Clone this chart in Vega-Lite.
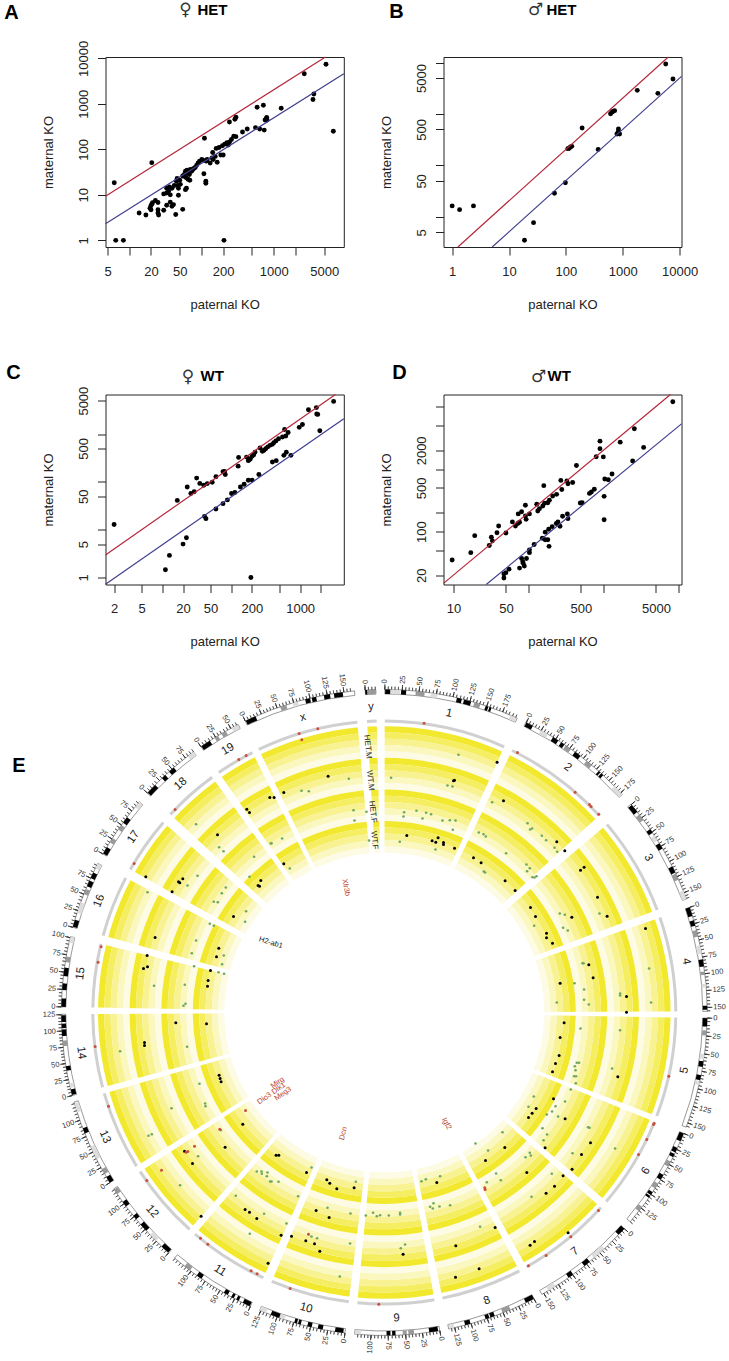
{"$schema":"https://vega.github.io/schema/vega-lite/v6.json","background":"white","padding":{"left":3.5,"top":0,"right":0,"bottom":0},"bounds":"flush","spacing":337.5,"config":{"font":"Liberation Sans","axis":{"grid":false,"domain":false,"tickSize":8,"tickColor":"#222","tickWidth":1,"labelColor":"#222","titleColor":"#222","labelFontSize":13,"titleFontSize":13,"titleFontWeight":"normal","labelOverlap":false,"labelFlush":false,"labelBound":false,"format":"d"}},"vconcat":[{"hconcat":[{"width":238.3,"height":190,"view":{"stroke":"#222","strokeWidth":1},"layer":[{"data":{"values":[{"x":6.2,"y":18.5},{"x":6.5,"y":1},{"x":8.3,"y":1},{"x":20.5,"y":51},{"x":13.7,"y":4},{"x":17,"y":3.6},{"x":19.4,"y":5.1},{"x":20,"y":4.7},{"x":20.5,"y":6.2},{"x":20,"y":5.8},{"x":21,"y":6.7},{"x":23,"y":7.5},{"x":25,"y":6.8},{"x":25,"y":4.7},{"x":25,"y":4},{"x":25.5,"y":3.6},{"x":30,"y":4.6},{"x":33,"y":5.9},{"x":37,"y":6.9},{"x":39,"y":5.6},{"x":41,"y":6.1},{"x":44,"y":3.7},{"x":55,"y":4.8},{"x":48,"y":9.8},{"x":37,"y":10},{"x":30,"y":10.5},{"x":33,"y":11},{"x":35,"y":12},{"x":37,"y":14},{"x":39,"y":14},{"x":42,"y":16},{"x":36,"y":15},{"x":33,"y":14},{"x":48,"y":14},{"x":47,"y":16},{"x":45,"y":20},{"x":46,"y":23},{"x":50,"y":21},{"x":51,"y":17},{"x":56,"y":26},{"x":60,"y":13},{"x":62,"y":14},{"x":61,"y":24},{"x":65,"y":22},{"x":69,"y":21},{"x":65,"y":30},{"x":70,"y":36},{"x":76,"y":36},{"x":82,"y":40},{"x":86,"y":45},{"x":94,"y":55},{"x":101,"y":60},{"x":108,"y":29},{"x":115,"y":20},{"x":115,"y":18},{"x":116,"y":55},{"x":132,"y":50},{"x":143,"y":85},{"x":140,"y":65},{"x":145,"y":60},{"x":155,"y":70},{"x":160,"y":105},{"x":165,"y":52},{"x":175,"y":110},{"x":185,"y":75},{"x":195,"y":120},{"x":200,"y":75},{"x":210,"y":130},{"x":225,"y":140},{"x":235,"y":125},{"x":245,"y":145},{"x":260,"y":165},{"x":280,"y":195},{"x":300,"y":190},{"x":370,"y":240},{"x":430,"y":280},{"x":560,"y":300},{"x":640,"y":280},{"x":740,"y":265},{"x":760,"y":440},{"x":790,"y":470},{"x":800,"y":500},{"x":810,"y":440},{"x":1270,"y":800},{"x":3500,"y":1250},{"x":3600,"y":1650},{"x":2650,"y":4600},{"x":5300,"y":7400},{"x":6700,"y":250},{"x":244,"y":398},{"x":290,"y":460},{"x":300,"y":510},{"x":110,"y":175},{"x":590,"y":840},{"x":720,"y":930},{"x":205,"y":1},{"x":55,"y":26},{"x":58,"y":28},{"x":60,"y":33},{"x":63,"y":35},{"x":68,"y":28},{"x":73,"y":33},{"x":78,"y":38},{"x":90,"y":50},{"x":105,"y":58},{"x":120,"y":60}]},"mark":{"type":"circle","color":"#000","opacity":1,"size":24},"encoding":{"x":{"field":"x","type":"quantitative","scale":{"type":"log","domain":[4.69,9350],"nice":false},"axis":{"values":[5,10,20,50,100,200,500,1000,2000,5000],"labelExpr":"indexof([5,20,50,200,1000,5000],datum.value)>=0?datum.value:''","title":"paternal KO","labelPadding":10,"titlePadding":20}},"y":{"field":"y","type":"quantitative","scale":{"type":"log","domain":[0.714,10700],"nice":false},"axis":{"values":[1,10,100,1000,10000],"labelAngle":-90,"title":"maternal KO","labelPadding":7,"titlePadding":22}}}},{"data":{"values":[{"x":4.69,"y":9.27},{"x":5210,"y":10700}]},"mark":{"type":"line","color":"#b5283a","strokeWidth":1.2},"encoding":{"x":{"field":"x","type":"quantitative"},"y":{"field":"y","type":"quantitative"}}},{"data":{"values":[{"x":4.69,"y":2.32},{"x":9350,"y":4600}]},"mark":{"type":"line","color":"#3f3f8f","strokeWidth":1.2},"encoding":{"x":{"field":"x","type":"quantitative"},"y":{"field":"y","type":"quantitative"}}},{"data":{"values":[{"t":"A"}]},"mark":{"type":"text","fontSize":20,"fontWeight":"bold","color":"#000"},"encoding":{"text":{"field":"t"},"x":{"value":-94},"y":{"value":-44.5}}},{"data":{"values":[{"t":"♀"}]},"mark":{"type":"text","font":"DejaVu Sans","fontSize":17,"color":"#333"},"encoding":{"text":{"field":"t"},"x":{"value":80},"y":{"value":-47}}},{"data":{"values":[{"t":"HET"}]},"mark":{"type":"text","fontSize":15,"fontWeight":"bold","align":"left","color":"#000"},"encoding":{"text":{"field":"t"},"x":{"value":92},"y":{"value":-47}}}]},{"width":238,"height":190,"view":{"stroke":"#222","strokeWidth":1},"layer":[{"data":{"values":[{"x":1,"y":16.3},{"x":1.35,"y":13.8},{"x":2.37,"y":16.3},{"x":18.7,"y":3.5},{"x":27,"y":7.7},{"x":63,"y":28.7},{"x":98,"y":46},{"x":370,"y":205},{"x":108,"y":212},{"x":115,"y":216},{"x":127,"y":235},{"x":120,"y":228},{"x":193,"y":535},{"x":610,"y":1014},{"x":645,"y":1077},{"x":720,"y":1160},{"x":670,"y":1120},{"x":840,"y":510},{"x":840,"y":460},{"x":790,"y":408},{"x":880,"y":408},{"x":1800,"y":2880},{"x":4150,"y":2520},{"x":5700,"y":9370},{"x":7650,"y":4790}]},"mark":{"type":"circle","color":"#000","opacity":1,"size":24},"encoding":{"x":{"field":"x","type":"quantitative","scale":{"type":"log","domain":[0.704,10800],"nice":false},"axis":{"values":[1,10,100,1000,10000],"title":"paternal KO","labelPadding":10,"titlePadding":20}},"y":{"field":"y","type":"quantitative","scale":{"type":"log","domain":[2.59,12830],"nice":false},"axis":{"values":[5,10,50,100,500,1000,5000,10000],"labelExpr":"indexof([5,50,500,5000],datum.value)>=0?datum.value:''","labelAngle":-90,"title":"maternal KO","labelPadding":7,"titlePadding":22}}}},{"data":{"values":[{"x":1.26,"y":2.59},{"x":6320,"y":12830}]},"mark":{"type":"line","color":"#b5283a","strokeWidth":1.2},"encoding":{"x":{"field":"x","type":"quantitative"},"y":{"field":"y","type":"quantitative"}}},{"data":{"values":[{"x":5.06,"y":2.59},{"x":10800,"y":5400}]},"mark":{"type":"line","color":"#3f3f8f","strokeWidth":1.2},"encoding":{"x":{"field":"x","type":"quantitative"},"y":{"field":"y","type":"quantitative"}}},{"data":{"values":[{"t":"B"}]},"mark":{"type":"text","fontSize":20,"fontWeight":"bold","color":"#000"},"encoding":{"text":{"field":"t"},"x":{"value":-47},"y":{"value":-45}}},{"data":{"values":[{"t":"♂"}]},"mark":{"type":"text","font":"DejaVu Sans","fontSize":17,"color":"#333"},"encoding":{"text":{"field":"t"},"x":{"value":92},"y":{"value":-47}}},{"data":{"values":[{"t":"HET"}]},"mark":{"type":"text","fontSize":15,"fontWeight":"bold","align":"left","color":"#000"},"encoding":{"text":{"field":"t"},"x":{"value":103},"y":{"value":-47}}}]}],"spacing":99,"bounds":"flush"},{"hconcat":[{"width":238.3,"height":190,"view":{"stroke":"#222","strokeWidth":1},"layer":[{"data":{"values":[{"x":2,"y":12.8},{"x":11.1,"y":1.45},{"x":12.7,"y":2.9},{"x":20,"y":5},{"x":22.4,"y":6.8},{"x":16.5,"y":41},{"x":23,"y":78},{"x":26,"y":57},{"x":29,"y":62},{"x":31.5,"y":120},{"x":35,"y":93},{"x":40,"y":85},{"x":45,"y":92},{"x":53,"y":98},{"x":60,"y":128},{"x":41,"y":19},{"x":43,"y":17},{"x":60,"y":27},{"x":76,"y":35},{"x":88,"y":42},{"x":101,"y":57},{"x":113,"y":60},{"x":136,"y":78},{"x":154,"y":89},{"x":177,"y":108},{"x":201,"y":109},{"x":252,"y":143},{"x":396,"y":260},{"x":450,"y":278},{"x":580,"y":359},{"x":630,"y":415},{"x":735,"y":359},{"x":76,"y":163},{"x":82,"y":143},{"x":80,"y":165},{"x":126,"y":213},{"x":128,"y":325},{"x":167,"y":330},{"x":177,"y":278},{"x":190,"y":305},{"x":201,"y":345},{"x":222,"y":420},{"x":262,"y":510},{"x":283,"y":435},{"x":317,"y":495},{"x":365,"y":580},{"x":396,"y":610},{"x":445,"y":720},{"x":487,"y":800},{"x":555,"y":870},{"x":595,"y":1250},{"x":620,"y":910},{"x":670,"y":1080},{"x":970,"y":1380},{"x":1080,"y":1590},{"x":1320,"y":3220},{"x":1720,"y":3580},{"x":1740,"y":2620},{"x":1800,"y":2580},{"x":1930,"y":1170},{"x":3060,"y":4820},{"x":193,"y":1},{"x":183,"y":290},{"x":212,"y":370},{"x":300,"y":460},{"x":340,"y":540},{"x":415,"y":660}]},"mark":{"type":"circle","color":"#000","opacity":1,"size":24},"encoding":{"x":{"field":"x","type":"quantitative","scale":{"type":"log","domain":[1.5,4300],"nice":false},"axis":{"values":[2,5,10,20,50,100,200,500,1000,2000],"labelExpr":"indexof([2,5,20,50,200,1000],datum.value)>=0?datum.value:''","title":"paternal KO","labelPadding":10,"titlePadding":20}},"y":{"field":"y","type":"quantitative","scale":{"type":"log","domain":[0.714,6720],"nice":false},"axis":{"values":[1,5,10,50,100,500,1000,5000],"labelExpr":"indexof([1,5,50,500,5000],datum.value)>=0?datum.value:''","labelAngle":-90,"title":"maternal KO","labelPadding":7,"titlePadding":22}}}},{"data":{"values":[{"x":1.5,"y":2.97},{"x":3250,"y":6720}]},"mark":{"type":"line","color":"#b5283a","strokeWidth":1.2},"encoding":{"x":{"field":"x","type":"quantitative"},"y":{"field":"y","type":"quantitative"}}},{"data":{"values":[{"x":1.5,"y":0.725},{"x":4300,"y":2090}]},"mark":{"type":"line","color":"#3f3f8f","strokeWidth":1.2},"encoding":{"x":{"field":"x","type":"quantitative"},"y":{"field":"y","type":"quantitative"}}},{"data":{"values":[{"t":"C"}]},"mark":{"type":"text","fontSize":20,"fontWeight":"bold","color":"#000"},"encoding":{"text":{"field":"t"},"x":{"value":-92},"y":{"value":-22}}},{"data":{"values":[{"t":"♀"}]},"mark":{"type":"text","font":"DejaVu Sans","fontSize":17,"color":"#333"},"encoding":{"text":{"field":"t"},"x":{"value":82.5},"y":{"value":-18}}},{"data":{"values":[{"t":"WT"}]},"mark":{"type":"text","fontSize":15,"fontWeight":"bold","align":"left","color":"#000"},"encoding":{"text":{"field":"t"},"x":{"value":95},"y":{"value":-19}}}]},{"width":238,"height":190,"view":{"stroke":"#222","strokeWidth":1},"layer":[{"data":{"values":[{"x":9.6,"y":35},{"x":17,"y":46},{"x":19.2,"y":86},{"x":30,"y":60},{"x":32,"y":81},{"x":33,"y":71},{"x":38,"y":96},{"x":40,"y":123},{"x":50,"y":95},{"x":61,"y":143},{"x":67,"y":123},{"x":72,"y":135},{"x":76,"y":141},{"x":73,"y":192},{"x":81,"y":208},{"x":91,"y":178},{"x":91,"y":264},{"x":93,"y":157},{"x":103,"y":192},{"x":129,"y":274},{"x":133,"y":214},{"x":140,"y":233},{"x":155,"y":257},{"x":164,"y":284},{"x":160,"y":544},{"x":181,"y":290},{"x":190,"y":317},{"x":210,"y":372},{"x":237,"y":395},{"x":278,"y":473},{"x":270,"y":660},{"x":325,"y":645},{"x":336,"y":585},{"x":388,"y":610},{"x":436,"y":1145},{"x":800,"y":1580},{"x":898,"y":2810},{"x":898,"y":2130},{"x":995,"y":1570},{"x":1670,"y":2710},{"x":2580,"y":4430},{"x":3430,"y":2230},{"x":8400,"y":12000},{"x":2450,"y":1350},{"x":1300,"y":835},{"x":1160,"y":677},{"x":1040,"y":695},{"x":1020,"y":367},{"x":1020,"y":155},{"x":755,"y":476},{"x":690,"y":430},{"x":650,"y":409},{"x":520,"y":290},{"x":490,"y":287},{"x":330,"y":192},{"x":285,"y":176},{"x":336,"y":161},{"x":263,"y":122},{"x":247,"y":143},{"x":235,"y":135},{"x":207,"y":120},{"x":186,"y":109},{"x":167,"y":98},{"x":153,"y":78},{"x":181,"y":74},{"x":167,"y":74},{"x":188,"y":58},{"x":119,"y":62},{"x":103,"y":51},{"x":103,"y":46},{"x":94,"y":37},{"x":81,"y":37},{"x":84,"y":33},{"x":88,"y":28},{"x":76,"y":26},{"x":85,"y":31},{"x":55,"y":25},{"x":50,"y":22},{"x":47,"y":21},{"x":47,"y":18}]},"mark":{"type":"circle","color":"#000","opacity":1,"size":24},"encoding":{"x":{"field":"x","type":"quantitative","scale":{"type":"log","domain":[7.36,10970],"nice":false},"axis":{"values":[10,50,100,500,1000,5000,10000],"labelExpr":"indexof([10,50,500,5000],datum.value)>=0?datum.value:''","title":"paternal KO","labelPadding":10,"titlePadding":20}},"y":{"field":"y","type":"quantitative","scale":{"type":"log","domain":[14.2,15700],"nice":false},"axis":{"values":[20,50,100,200,500,1000,2000,5000,10000],"labelExpr":"indexof([20,100,500,2000],datum.value)>=0?datum.value:''","labelAngle":-90,"title":"maternal KO","labelPadding":7,"titlePadding":22}}}},{"data":{"values":[{"x":7.36,"y":14.8},{"x":7810,"y":15700}]},"mark":{"type":"line","color":"#b5283a","strokeWidth":1.2},"encoding":{"x":{"field":"x","type":"quantitative"},"y":{"field":"y","type":"quantitative"}}},{"data":{"values":[{"x":27.3,"y":14.2},{"x":10970,"y":5320}]},"mark":{"type":"line","color":"#3f3f8f","strokeWidth":1.2},"encoding":{"x":{"field":"x","type":"quantitative"},"y":{"field":"y","type":"quantitative"}}},{"data":{"values":[{"t":"D"}]},"mark":{"type":"text","fontSize":20,"fontWeight":"bold","color":"#000"},"encoding":{"text":{"field":"t"},"x":{"value":-44},"y":{"value":-22}}},{"data":{"values":[{"t":"♂"}]},"mark":{"type":"text","font":"DejaVu Sans","fontSize":17,"color":"#333"},"encoding":{"text":{"field":"t"},"x":{"value":95},"y":{"value":-18}}},{"data":{"values":[{"t":"WT"}]},"mark":{"type":"text","fontSize":15,"fontWeight":"bold","align":"left","color":"#000"},"encoding":{"text":{"field":"t"},"x":{"value":104},"y":{"value":-19}}}]}],"spacing":99,"bounds":"flush"},{"width":557.6,"height":561,"view":{"stroke":null},"resolve":{"scale":{"color":"independent","angle":"independent"}},"layer":[{"data":{"values":[{"a0":0,"a1":360,"r0":286.3,"r1":280,"c":"s1"},{"a0":0,"a1":360,"r0":280,"r1":273.7,"c":"s2"},{"a0":0,"a1":360,"r0":273.7,"r1":267.4,"c":"s3"},{"a0":0,"a1":360,"r0":267.4,"r1":261,"c":"s4"},{"a0":0,"a1":360,"r0":261,"r1":254.7,"c":"s5"},{"a0":0,"a1":360,"r0":254.7,"r1":248.4,"c":"s1"},{"a0":0,"a1":360,"r0":248.4,"r1":242,"c":"s2"},{"a0":0,"a1":360,"r0":242,"r1":235.7,"c":"s3"},{"a0":0,"a1":360,"r0":235.7,"r1":229.4,"c":"s4"},{"a0":0,"a1":360,"r0":229.4,"r1":223,"c":"s5"},{"a0":0,"a1":360,"r0":223,"r1":216.7,"c":"s1"},{"a0":0,"a1":360,"r0":216.7,"r1":210.4,"c":"s2"},{"a0":0,"a1":360,"r0":210.4,"r1":204,"c":"s3"},{"a0":0,"a1":360,"r0":204,"r1":197.8,"c":"s4"},{"a0":0,"a1":360,"r0":197.8,"r1":191.5,"c":"s5"},{"a0":0,"a1":360,"r0":191.5,"r1":185.2,"c":"s1"},{"a0":0,"a1":360,"r0":185.2,"r1":178.9,"c":"s2"},{"a0":0,"a1":360,"r0":178.9,"r1":172.5,"c":"s3"},{"a0":0,"a1":360,"r0":172.5,"r1":166.2,"c":"s4"},{"a0":0,"a1":360,"r0":166.2,"r1":160,"c":"s5"}]},"mark":{"type":"arc"},"encoding":{"theta":{"field":"a0","type":"quantitative","scale":{"domain":[0,360],"range":[0,6.283185]}},"theta2":{"field":"a1"},"radius":{"field":"r0","type":"quantitative","scale":{"type":"linear","domain":[0,345],"range":[0,345]}},"radius2":{"field":"r1"},"color":{"field":"c","type":"nominal","legend":null,"scale":{"domain":["s1","s2","s3","s4","s5"],"range":["#f2e92e","#f5ee62","#f8f293","#faf7bf","#fdfbe4"]}}}},{"data":{"values":[{"a0":24.3,"a1":26},{"a0":47.5,"a1":49.8},{"a0":69.4,"a1":71},{"a0":89.8,"a1":91},{"a0":110.8,"a1":112},{"a0":130.4,"a1":132},{"a0":150.8,"a1":152.4},{"a0":168.5,"a1":170.1},{"a0":185.3,"a1":187},{"a0":202.7,"a1":204.5},{"a0":220.5,"a1":221.9},{"a0":236.9,"a1":238.2},{"a0":253.9,"a1":255.1},{"a0":269.7,"a1":271},{"a0":283.6,"a1":285.3},{"a0":297.5,"a1":299.4},{"a0":310.7,"a1":312.8},{"a0":323.8,"a1":325.4},{"a0":333.1,"a1":334.5},{"a0":354.7,"a1":356.6},{"a0":358.5,"a1":360},{"a0":0,"a1":0.1}]},"mark":{"type":"arc","color":"white"},"encoding":{"theta":{"field":"a0","type":"quantitative","scale":{"domain":[0,360],"range":[0,6.283185]}},"theta2":{"field":"a1"},"radius":{"value":289},"radius2":{"value":150}}},{"data":{"name":"chrom","values":[{"a0":0.1,"a1":24.3,"m":12.2,"n":"1"},{"a0":26,"a1":47.5,"m":36.8,"n":"2"},{"a0":49.8,"a1":69.4,"m":59.6,"n":"3"},{"a0":71,"a1":89.8,"m":80.4,"n":"4"},{"a0":91,"a1":110.8,"m":100.9,"n":"5"},{"a0":112,"a1":130.4,"m":121.2,"n":"6"},{"a0":132,"a1":150.8,"m":141.4,"n":"7"},{"a0":152.4,"a1":168.5,"m":160.4,"n":"8"},{"a0":170.1,"a1":185.3,"m":177.7,"n":"9"},{"a0":187,"a1":202.7,"m":194.8,"n":"10"},{"a0":204.5,"a1":220.5,"m":212.5,"n":"11"},{"a0":221.9,"a1":236.9,"m":229.4,"n":"12"},{"a0":238.2,"a1":253.9,"m":246,"n":"13"},{"a0":255.1,"a1":269.7,"m":262.4,"n":"14"},{"a0":271,"a1":283.6,"m":277.3,"n":"15"},{"a0":285.3,"a1":297.5,"m":291.4,"n":"16"},{"a0":299.4,"a1":310.7,"m":305,"n":"17"},{"a0":312.8,"a1":323.8,"m":318.3,"n":"18"},{"a0":325.4,"a1":333.1,"m":329.3,"n":"19"},{"a0":334.5,"a1":354.7,"m":344.6,"n":"x"},{"a0":356.6,"a1":358.5,"m":357.5,"n":"y"}]},"mark":{"type":"arc","color":"#d0d0d0"},"encoding":{"theta":{"field":"a0","type":"quantitative","scale":{"domain":[0,360],"range":[0,6.283185]}},"theta2":{"field":"a1"},"radius":{"value":293},"radius2":{"value":290}}},{"data":{"name":"chrom"},"mark":{"type":"arc","fill":"white","stroke":"#333","strokeWidth":0.5},"encoding":{"theta":{"field":"a0","type":"quantitative","scale":{"domain":[0,360],"range":[0,6.283185]}},"theta2":{"field":"a1"},"radius":{"value":323},"radius2":{"value":318.5}}},{"data":{"values":[{"a0":0.15,"a1":1.1,"c":"k"},{"a0":1.1,"a1":2.8,"c":"l"},{"a0":3,"a1":3.9,"c":"k"},{"a0":5.6,"a1":7.2,"c":"g"},{"a0":8.3,"a1":9.5,"c":"l"},{"a0":13,"a1":13.9,"c":"k"},{"a0":14.3,"a1":15.6,"c":"k"},{"a0":16.2,"a1":17.3,"c":"g"},{"a0":18.3,"a1":18.8,"c":"k"},{"a0":19,"a1":19.4,"c":"k"},{"a0":23,"a1":24.2,"c":"l"},{"a0":26.1,"a1":27.4,"c":"k"},{"a0":29,"a1":30.5,"c":"l"},{"a0":31.5,"a1":32.6,"c":"k"},{"a0":33.2,"a1":33.9,"c":"k"},{"a0":34.2,"a1":35.3,"c":"g"},{"a0":36.2,"a1":37.4,"c":"k"},{"a0":38.8,"a1":40,"c":"g"},{"a0":41.6,"a1":42,"c":"k"},{"a0":42.2,"a1":42.7,"c":"k"},{"a0":45.5,"a1":47.5,"c":"l"},{"a0":50,"a1":51.6,"c":"k"},{"a0":52.2,"a1":53.4,"c":"g"},{"a0":55.4,"a1":56.2,"c":"k"},{"a0":56.8,"a1":57.8,"c":"l"},{"a0":58.4,"a1":59.5,"c":"k"},{"a0":63.1,"a1":64.3,"c":"k"},{"a0":64.5,"a1":65.7,"c":"g"},{"a0":67.8,"a1":69.4,"c":"l"},{"a0":71,"a1":72.6,"c":"k"},{"a0":73.4,"a1":74.4,"c":"k"},{"a0":75.2,"a1":76.4,"c":"g"},{"a0":78,"a1":79.5,"c":"l"},{"a0":80.5,"a1":81.8,"c":"k"},{"a0":82.7,"a1":83.3,"c":"g"},{"a0":84.9,"a1":85.5,"c":"l"},{"a0":88.8,"a1":89.5,"c":"k"},{"a0":91,"a1":92.5,"c":"k"},{"a0":93.2,"a1":94.1,"c":"g"},{"a0":97.4,"a1":98.3,"c":"l"},{"a0":98.7,"a1":99.7,"c":"k"},{"a0":101.2,"a1":102.1,"c":"k"},{"a0":102.3,"a1":103,"c":"l"},{"a0":112,"a1":113.5,"c":"k"},{"a0":114.8,"a1":115.7,"c":"k"},{"a0":116,"a1":116.6,"c":"k"},{"a0":117.5,"a1":118.5,"c":"g"},{"a0":120.2,"a1":121.2,"c":"k"},{"a0":122,"a1":123,"c":"g"},{"a0":123.8,"a1":124.4,"c":"k"},{"a0":124.6,"a1":125,"c":"k"},{"a0":127,"a1":128,"c":"g"},{"a0":132,"a1":133.5,"c":"k"},{"a0":137,"a1":139.5,"c":"l"},{"a0":140.5,"a1":141.7,"c":"k"},{"a0":144.2,"a1":145.2,"c":"k"},{"a0":148,"a1":149.5,"c":"l"},{"a0":152.4,"a1":154,"c":"k"},{"a0":157,"a1":158.5,"c":"g"},{"a0":160,"a1":160.8,"c":"k"},{"a0":161,"a1":161.7,"c":"k"},{"a0":164.5,"a1":165.5,"c":"k"},{"a0":167.5,"a1":168.3,"c":"l"},{"a0":170.4,"a1":172,"c":"k"},{"a0":174.7,"a1":175.7,"c":"g"},{"a0":176,"a1":176.7,"c":"g"},{"a0":178,"a1":178.6,"c":"k"},{"a0":178.9,"a1":179.6,"c":"k"},{"a0":184.2,"a1":185.3,"c":"l"},{"a0":187.3,"a1":188.8,"c":"k"},{"a0":191,"a1":191.9,"c":"k"},{"a0":193,"a1":193.8,"c":"k"},{"a0":195,"a1":195.5,"c":"k"},{"a0":195.7,"a1":196.2,"c":"k"},{"a0":198,"a1":199,"c":"l"},{"a0":199,"a1":200.6,"c":"k"},{"a0":201.5,"a1":202.7,"c":"l"},{"a0":204.6,"a1":206,"c":"k"},{"a0":206.8,"a1":207.3,"c":"k"},{"a0":207.8,"a1":208.3,"c":"k"},{"a0":209,"a1":209.8,"c":"k"},{"a0":214.5,"a1":215.5,"c":"k"},{"a0":217,"a1":218.2,"c":"g"},{"a0":222,"a1":223.6,"c":"k"},{"a0":225,"a1":226.5,"c":"l"},{"a0":227.5,"a1":229,"c":"k"},{"a0":230.2,"a1":231,"c":"k"},{"a0":233.1,"a1":234.1,"c":"k"},{"a0":235.8,"a1":236.8,"c":"g"},{"a0":238.2,"a1":239.4,"c":"k"},{"a0":240,"a1":241,"c":"g"},{"a0":243,"a1":245.5,"c":"l"},{"a0":248,"a1":249,"c":"k"},{"a0":252,"a1":253.7,"c":"l"},{"a0":255.2,"a1":256.2,"c":"k"},{"a0":256.5,"a1":257.3,"c":"l"},{"a0":259.6,"a1":260.4,"c":"k"},{"a0":264,"a1":265,"c":"g"},{"a0":265.8,"a1":267,"c":"k"},{"a0":267.2,"a1":268,"c":"k"},{"a0":268.3,"a1":269.5,"c":"k"},{"a0":271,"a1":272.5,"c":"k"},{"a0":274,"a1":275.2,"c":"k"},{"a0":276.5,"a1":278,"c":"k"},{"a0":279,"a1":280,"c":"g"},{"a0":282.5,"a1":283.6,"c":"l"},{"a0":285.4,"a1":286.7,"c":"k"},{"a0":288,"a1":290,"c":"l"},{"a0":291.5,"a1":292.5,"c":"g"},{"a0":293,"a1":294.1,"c":"k"},{"a0":294.6,"a1":295.7,"c":"k"},{"a0":296.5,"a1":297.5,"c":"l"},{"a0":299.5,"a1":300.8,"c":"k"},{"a0":301.8,"a1":302.7,"c":"g"},{"a0":304.5,"a1":305.5,"c":"g"},{"a0":306,"a1":307.2,"c":"k"},{"a0":309.5,"a1":310.7,"c":"l"},{"a0":312.9,"a1":314.8,"c":"k"},{"a0":316.5,"a1":317.3,"c":"k"},{"a0":318.2,"a1":319.3,"c":"k"},{"a0":322.5,"a1":323.8,"c":"l"},{"a0":325.5,"a1":327.3,"c":"k"},{"a0":328.3,"a1":329,"c":"g"},{"a0":329.7,"a1":330.6,"c":"g"},{"a0":331.8,"a1":333,"c":"l"},{"a0":334.6,"a1":336.5,"c":"k"},{"a0":341.2,"a1":342.3,"c":"g"},{"a0":343.5,"a1":344.5,"c":"l"},{"a0":345.8,"a1":346.7,"c":"k"},{"a0":347,"a1":347.8,"c":"k"},{"a0":349.2,"a1":350.3,"c":"k"},{"a0":351,"a1":352.6,"c":"k"},{"a0":356.6,"a1":357,"c":"k"},{"a0":357,"a1":358.5,"c":"g"}]},"mark":{"type":"arc"},"encoding":{"theta":{"field":"a0","type":"quantitative","scale":{"domain":[0,360],"range":[0,6.283185]}},"theta2":{"field":"a1"},"radius":{"value":323},"radius2":{"value":318.5},"color":{"field":"c","type":"nominal","legend":null,"scale":{"domain":["k","g","l"],"range":["#000000","#999999","#dddddd"]}}}},{"data":{"values":[0.1,0.7,1.3,1.9,2.5,3.2,3.8,4.4,5,5.6,6.2,6.8,7.4,8,8.7,9.3,9.9,10.5,11.1,11.7,12.3,12.9,13.6,14.2,14.8,15.4,16,16.6,17.2,17.8,18.5,19.1,19.7,20.3,20.9,21.5,22.1,22.7,23.4,24,26.1,26.7,27.3,27.9,28.5,29.1,29.7,30.3,30.9,31.5,32.1,32.7,33.3,33.9,34.5,35.1,35.7,36.3,36.9,37.5,38.1,38.7,39.3,39.9,40.5,41.1,41.7,42.3,42.9,43.5,44.1,44.7,45.3,45.9,46.5,47.1,49.9,50.5,51.1,51.7,52.3,52.9,53.6,54.2,54.8,55.4,56,56.6,57.2,57.8,58.4,59,59.7,60.3,60.9,61.5,62.1,62.7,63.3,63.9,64.5,65.1,65.8,66.4,67,67.6,68.2,68.8,69.3,71,71.6,72.2,72.8,73.4,74,74.6,75.2,75.8,76.4,77,77.6,78.2,78.8,79.5,80.1,80.7,81.3,81.9,82.5,83.1,83.7,84.3,84.9,85.5,86.1,86.7,87.3,87.9,88.5,89.1,89.7,91,91.6,92.3,92.9,93.5,94.2,94.8,95.4,96.1,96.7,97.4,98,98.6,99.3,99.9,100.5,101.2,101.8,102.4,103.1,103.7,104.3,105,105.6,106.2,106.9,107.5,108.1,108.8,109.4,110,110.6,112,112.6,113.2,113.8,114.5,115.1,115.7,116.3,116.9,117.5,118.1,118.7,119.4,120,120.6,121.2,121.8,122.4,123,123.6,124.3,124.9,125.5,126.1,126.7,127.3,127.9,128.5,129.2,129.8,130.4,132,132.6,133.2,133.8,134.5,135.1,135.7,136.3,136.9,137.5,138.1,138.7,139.4,140,140.6,141.2,141.8,142.4,143,143.6,144.3,144.9,145.5,146.1,146.7,147.3,147.9,148.5,149.2,149.8,150.4,152.4,153,153.6,154.2,154.8,155.4,156,156.6,157.2,157.8,158.4,159,159.6,160.2,160.8,161.4,162,162.6,163.2,163.8,164.4,165,165.6,166.2,166.8,167.4,168,170.1,170.7,171.3,171.9,172.5,173.2,173.8,174.4,175,175.6,176.2,176.8,177.4,178,178.6,179.3,179.9,180.5,181.1,181.7,182.3,182.9,183.5,184.1,184.7,187,187.6,188.2,188.9,189.5,190.1,190.7,191.3,192,192.6,193.2,193.8,194.4,195.1,195.7,196.3,196.9,197.5,198.2,198.8,199.4,200,200.6,201.3,201.9,202.5,204.5,205.1,205.7,206.3,206.9,207.6,208.2,208.8,209.4,210,210.6,211.2,211.8,212.4,213,213.7,214.3,214.9,215.5,216.1,216.7,217.3,217.9,218.5,219.1,219.8,220.4,221.9,222.5,223.1,223.7,224.3,224.9,225.4,226,226.6,227.2,227.8,228.4,229,229.6,230.2,230.8,231.3,231.9,232.5,233.1,233.7,234.3,234.9,235.5,236.1,236.7,238.2,238.8,239.4,240.1,240.7,241.3,241.9,242.5,243.1,243.7,244.4,245,245.6,246.2,246.8,247.4,248,248.6,249.3,249.9,250.5,251.1,251.7,252.3,252.9,253.6,255.1,255.7,256.3,256.8,257.4,258,258.6,259.2,259.7,260.3,260.9,261.5,262.1,262.6,263.2,263.8,264.4,265,265.5,266.1,266.7,267.3,267.9,268.4,269,269.6,271,271.6,272.2,272.9,273.5,274.1,274.7,275.3,276,276.6,277.2,277.8,278.4,279.1,279.7,280.3,280.9,281.5,282.2,282.8,283.4,285.3,285.9,286.5,287.2,287.8,288.4,289,289.6,290.3,290.9,291.5,292.1,292.7,293.4,294,294.6,295.2,295.8,296.5,297.1,299.4,300,300.6,301.2,301.8,302.5,303.1,303.7,304.3,304.9,305.5,306.1,306.7,307.3,307.9,308.6,309.2,309.8,310.4,312.8,313.4,314,314.6,315.2,315.9,316.5,317.1,317.7,318.3,318.9,319.5,320.1,320.7,321.3,322,322.6,323.2,323.8,325.4,326,326.6,327.3,327.9,328.5,329.1,329.7,330.4,331,331.6,332.2,332.8,334.5,335.1,335.7,336.3,336.9,337.6,338.2,338.8,339.4,340,340.6,341.2,341.8,342.4,343,343.7,344.3,344.9,345.5,346.1,346.7,347.3,347.9,348.5,349.1,349.8,350.4,351,351.6,352.2,352.8,353.4,354,356.6,357.2,357.8,358.4]},"mark":{"type":"arc","stroke":"#333","strokeWidth":0.6,"fill":null},"encoding":{"theta":{"field":"data","type":"quantitative","scale":{"domain":[0,360],"range":[0,6.283185]}},"theta2":{"field":"data"},"radius":{"value":326},"radius2":{"value":323}}},{"data":{"name":"labR","values":[{"a":0.1,"l":"0"},{"a":3.2,"l":"25"},{"a":6.2,"l":"50"},{"a":9.3,"l":"75"},{"a":12.3,"l":"100"},{"a":15.4,"l":"125"},{"a":18.5,"l":"150"},{"a":21.5,"l":"175"},{"a":26.1,"l":"0"},{"a":29.1,"l":"25"},{"a":32.1,"l":"50"},{"a":35.1,"l":"75"},{"a":38.1,"l":"100"},{"a":41.1,"l":"125"},{"a":44.1,"l":"150"},{"a":47.1,"l":"175"},{"a":49.9,"l":"0"},{"a":52.9,"l":"25"},{"a":56,"l":"50"},{"a":59,"l":"75"},{"a":62.1,"l":"100"},{"a":65.1,"l":"125"},{"a":68.2,"l":"150"},{"a":71,"l":"0"},{"a":74,"l":"25"},{"a":77,"l":"50"},{"a":80.1,"l":"75"},{"a":83.1,"l":"100"},{"a":86.1,"l":"125"},{"a":89.1,"l":"150"},{"a":91,"l":"0"},{"a":94.2,"l":"25"},{"a":97.4,"l":"50"},{"a":100.5,"l":"75"},{"a":103.7,"l":"100"},{"a":106.9,"l":"125"},{"a":110,"l":"150"},{"a":112,"l":"0"},{"a":115.1,"l":"25"},{"a":118.1,"l":"50"},{"a":121.2,"l":"75"},{"a":124.3,"l":"100"},{"a":127.3,"l":"125"},{"a":132,"l":"0"},{"a":135.1,"l":"25"},{"a":138.1,"l":"50"},{"a":141.2,"l":"75"},{"a":144.3,"l":"100"},{"a":147.4,"l":"125"},{"a":150.4,"l":"150"},{"a":152.4,"l":"0"},{"a":155.4,"l":"25"},{"a":158.4,"l":"50"},{"a":161.4,"l":"75"},{"a":164.4,"l":"100"},{"a":167.4,"l":"125"},{"a":170.1,"l":"0"},{"a":173.2,"l":"25"},{"a":176.2,"l":"50"},{"a":179.3,"l":"75"}]},"mark":{"type":"text","fontSize":7.5,"align":"left","baseline":"middle","color":"#333"},"encoding":{"text":{"field":"l"},"theta":{"field":"a","type":"quantitative","scale":{"domain":[0,360],"range":[0,6.283185]}},"radius":{"value":329},"angle":{"field":"a","type":"quantitative","scale":{"domain":[0,180],"range":[-90,90]}}}},{"data":{"name":"labL","values":[{"a":182.4,"l":"100"},{"a":187,"l":"0"},{"a":190.1,"l":"25"},{"a":193.2,"l":"50"},{"a":196.3,"l":"75"},{"a":199.4,"l":"100"},{"a":202.5,"l":"125"},{"a":204.5,"l":"0"},{"a":207.6,"l":"25"},{"a":210.6,"l":"50"},{"a":213.7,"l":"75"},{"a":216.8,"l":"100"},{"a":221.9,"l":"0"},{"a":224.9,"l":"25"},{"a":227.8,"l":"50"},{"a":230.8,"l":"75"},{"a":233.7,"l":"100"},{"a":238.2,"l":"0"},{"a":241.3,"l":"25"},{"a":244.4,"l":"50"},{"a":247.4,"l":"75"},{"a":250.5,"l":"100"},{"a":255.1,"l":"0"},{"a":258,"l":"25"},{"a":260.9,"l":"50"},{"a":263.8,"l":"75"},{"a":266.7,"l":"100"},{"a":269.6,"l":"125"},{"a":271,"l":"0"},{"a":274.1,"l":"25"},{"a":277.2,"l":"50"},{"a":280.3,"l":"75"},{"a":283.4,"l":"100"},{"a":285.3,"l":"0"},{"a":288.4,"l":"25"},{"a":291.5,"l":"50"},{"a":294.6,"l":"75"},{"a":299.4,"l":"0"},{"a":302.5,"l":"25"},{"a":305.5,"l":"50"},{"a":308.6,"l":"75"},{"a":312.8,"l":"0"},{"a":315.9,"l":"25"},{"a":318.9,"l":"50"},{"a":322,"l":"75"},{"a":325.4,"l":"0"},{"a":328.5,"l":"25"},{"a":331.6,"l":"50"},{"a":334.5,"l":"0"},{"a":337.6,"l":"25"},{"a":340.6,"l":"50"},{"a":343.7,"l":"75"},{"a":346.7,"l":"100"},{"a":349.8,"l":"125"},{"a":352.8,"l":"150"},{"a":356.6,"l":"0"}]},"mark":{"type":"text","fontSize":7.5,"align":"right","baseline":"middle","color":"#333"},"encoding":{"text":{"field":"l"},"theta":{"field":"a","type":"quantitative","scale":{"domain":[0,360],"range":[0,6.283185]}},"radius":{"value":329},"angle":{"field":"a","type":"quantitative","scale":{"domain":[180,360],"range":[270,450]}}}},{"data":{"name":"labR"},"mark":{"type":"arc","stroke":"#333","strokeWidth":0.7,"fill":null},"encoding":{"theta":{"field":"a","type":"quantitative","scale":{"domain":[0,360],"range":[0,6.283185]}},"theta2":{"field":"a"},"radius":{"value":328},"radius2":{"value":323}}},{"data":{"name":"labL"},"mark":{"type":"arc","stroke":"#333","strokeWidth":0.7,"fill":null},"encoding":{"theta":{"field":"a","type":"quantitative","scale":{"domain":[0,360],"range":[0,6.283185]}},"theta2":{"field":"a"},"radius":{"value":328},"radius2":{"value":323}}},{"data":{"name":"chrom"},"mark":{"type":"text","fontSize":11.5,"color":"#222"},"encoding":{"text":{"field":"n"},"theta":{"field":"m","type":"quantitative","scale":{"domain":[0,360],"range":[0,6.283185]}},"radius":{"value":306},"angle":{"field":"m","type":"quantitative","scale":{"domain":[0,90,90.01,270,270.01,360],"range":[0,90,-90,90,-90,0]}}}},{"data":{"values":[{"x":74.2,"y":257.7},{"x":6.8,"y":234.7},{"x":63.2,"y":227},{"x":68.2,"y":226},{"x":19.8,"y":200.3},{"x":19.2,"y":196},{"x":32.2,"y":201.7},{"x":41.8,"y":199.7},{"x":46.8,"y":198.3},{"x":38.2,"y":194},{"x":58.2,"y":192},{"x":65.5,"y":192.3},{"x":71.2,"y":192},{"x":68.5,"y":182.7},{"x":15.5,"y":170.7},{"x":51.2,"y":163},{"x":107.8,"y":210.3},{"x":143.2,"y":189.3},{"x":145.8,"y":183},{"x":147.8,"y":184},{"x":94.5,"y":180},{"x":99.2,"y":178.3},{"x":101.5,"y":176},{"x":157.5,"y":176.7},{"x":161.8,"y":172.3},{"x":170.2,"y":164.7},{"x":172.8,"y":160.7},{"x":121.8,"y":159.3},{"x":142.2,"y":148},{"x":145.5,"y":144.3},{"x":142.8,"y":141.3},{"x":99.5,"y":141},{"x":100.8,"y":140},{"x":148.2,"y":135.3},{"x":150.2,"y":135},{"x":152.2,"y":136.3},{"x":175.5,"y":99},{"x":180.5,"y":97.7},{"x":149.8,"y":86.7},{"x":178.8,"y":84.7},{"x":183.5,"y":82},{"x":215.2,"y":99},{"x":264.8,"y":44},{"x":198.2,"y":49.3},{"x":199.2,"y":49.3},{"x":190.2,"y":29.3},{"x":199.8,"y":23},{"x":235.8,"y":19},{"x":235.8,"y":17},{"x":172.5,"y":10},{"x":199.8,"y":12.7},{"x":204.5,"y":8},{"x":266.8,"y":10},{"x":-17.8,"y":200.7},{"x":-15.2,"y":172},{"x":-35.5,"y":233.7},{"x":-82.8,"y":221.7},{"x":-75.5,"y":221.3},{"x":-30.8,"y":202.3},{"x":-29.8,"y":192},{"x":-102.2,"y":174},{"x":-112.8,"y":169.3},{"x":-113.5,"y":169},{"x":-130.2,"y":155.7},{"x":-94.5,"y":144},{"x":-134.8,"y":135.7},{"x":-188.2,"y":188.3},{"x":-165.2,"y":165.3},{"x":-160.8,"y":161.3},{"x":-186.8,"y":136.7},{"x":-196.8,"y":127},{"x":-158.5,"y":125},{"x":-162.5,"y":119.3},{"x":-170.5,"y":110.7},{"x":-166.5,"y":110.3},{"x":-138.2,"y":101.3},{"x":-139.2,"y":90.7},{"x":-174.5,"y":88.7},{"x":-170.5,"y":86.7},{"x":-236.8,"y":120.3},{"x":-188.2,"y":72},{"x":-192.5,"y":59.3},{"x":-160.5,"y":57},{"x":-162.2,"y":48.3},{"x":-190.2,"y":46.3},{"x":-165.8,"y":40.3},{"x":-160.2,"y":38.7},{"x":-230.2,"y":26.7},{"x":-199.5,"y":27.7},{"x":-198.8,"y":8.7},{"x":-200.8,"y":6.7},{"x":196.2,"y":-16},{"x":235.8,"y":-17.7},{"x":227.8,"y":-56},{"x":192.5,"y":-50.3},{"x":194.8,"y":-50.3},{"x":190.5,"y":-53.7},{"x":191.2,"y":-57.7},{"x":189.8,"y":-63.7},{"x":191.8,"y":-63.7},{"x":191.5,"y":-70.7},{"x":186.5,"y":-77},{"x":180.8,"y":-89},{"x":171.2,"y":-93.7},{"x":167.8,"y":-99},{"x":173.8,"y":-104},{"x":162.5,"y":-102},{"x":149.5,"y":-84},{"x":144.2,"y":-94.3},{"x":203.8,"y":-114.7},{"x":205.2,"y":-115.3},{"x":230.8,"y":-136},{"x":188.2,"y":-140.7},{"x":158.2,"y":-115.7},{"x":162.8,"y":-122},{"x":159.2,"y":-127.7},{"x":118.2,"y":-119.7},{"x":91.2,"y":-131},{"x":103.8,"y":-138},{"x":145.5,"y":-140.3},{"x":146.5,"y":-143},{"x":141.2,"y":-144.7},{"x":167.5,"y":-161.3},{"x":111.8,"y":-161},{"x":116.5,"y":-167.7},{"x":102.5,"y":-169.7},{"x":147.2,"y":-184.3},{"x":55.8,"y":-163.7},{"x":41.5,"y":-166.7},{"x":37.2,"y":-168.7},{"x":49.2,"y":-190.7},{"x":45.8,"y":-194.3},{"x":48.5,"y":-196},{"x":55.2,"y":-194},{"x":65.8,"y":-192.7},{"x":95.8,"y":-214.3},{"x":20.8,"y":-232},{"x":16.5,"y":-235.7},{"x":-18.5,"y":-203},{"x":-11.2,"y":-200.3},{"x":-7.5,"y":-203.7},{"x":-4.2,"y":-202.7},{"x":4.5,"y":-203},{"x":15.8,"y":-200.3},{"x":15.8,"y":-202},{"x":-264.2,"y":-38.7},{"x":-197.2,"y":-34.3},{"x":-184.8,"y":-71.3},{"x":-212.8,"y":-95.7},{"x":-179.2,"y":-91},{"x":-178.8,"y":-93.7},{"x":-235.8,"y":-123.3},{"x":-232.5,"y":-121.7},{"x":-186.2,"y":-143.7},{"x":-163.5,"y":-117.7},{"x":-204.2,"y":-172.7},{"x":-148.5,"y":-183.3},{"x":-127.5,"y":-159},{"x":-122.8,"y":-159},{"x":-122.5,"y":-161.3},{"x":-116.8,"y":-160},{"x":-117.5,"y":-163.7},{"x":-114.2,"y":-169},{"x":-112.8,"y":-169},{"x":-105.8,"y":-169.3},{"x":-72.8,"y":-155},{"x":-28.5,"y":-169.3},{"x":-86.2,"y":-183.7},{"x":-56.8,"y":-195.3},{"x":-33.8,"y":-201},{"x":-120.2,"y":-201.3},{"x":-97.8,"y":-211},{"x":-134.5,"y":-221.3},{"x":-72.8,"y":-224},{"x":-67.2,"y":-225.7},{"x":-34.2,"y":-231},{"x":-44.5,"y":-264}]},"mark":{"type":"circle","color":"#6fa860","opacity":1,"size":7},"encoding":{"x":{"field":"x","type":"quantitative","scale":{"domain":[-278.8,278.8],"nice":false,"zero":false},"axis":null},"y":{"field":"y","type":"quantitative","scale":{"domain":[-280.5,280.5],"nice":false,"zero":false},"axis":null}}},{"data":{"values":[{"x":112.8,"y":250.3},{"x":70.2,"y":232.3},{"x":69.2,"y":231.7},{"x":119.2,"y":211.7},{"x":22.5,"y":177},{"x":53.8,"y":174.7},{"x":47.8,"y":171.7},{"x":51.5,"y":170.3},{"x":59.2,"y":170},{"x":59.2,"y":168},{"x":70.2,"y":164.3},{"x":89.2,"y":154.7},{"x":96.8,"y":149.7},{"x":120.8,"y":131.7},{"x":130.8,"y":122},{"x":172.5,"y":170.7},{"x":180.5,"y":161.7},{"x":196.2,"y":142.3},{"x":199.8,"y":145.3},{"x":213.2,"y":115.3},{"x":222.8,"y":96.3},{"x":187.5,"y":95.3},{"x":146.2,"y":105},{"x":151.2,"y":96},{"x":162.2,"y":79.3},{"x":162.2,"y":74.7},{"x":168.2,"y":69.3},{"x":261.2,"y":84},{"x":204.5,"y":47.7},{"x":208.8,"y":34.7},{"x":175.8,"y":29.3},{"x":242.2,"y":16},{"x":-56.2,"y":236.3},{"x":-100.5,"y":220},{"x":-114.5,"y":215},{"x":-110.2,"y":215},{"x":-137.5,"y":203.3},{"x":-134.8,"y":200},{"x":-166.8,"y":177.7},{"x":-100.5,"y":148.7},{"x":-123.5,"y":132},{"x":-126.2,"y":127},{"x":-124.8,"y":126.3},{"x":-238.5,"y":135.7},{"x":-201.5,"y":133.7},{"x":-205.8,"y":130.7},{"x":-204.5,"y":129.7},{"x":-212.2,"y":120.7},{"x":-150.8,"y":96},{"x":-229.2,"y":75},{"x":-165.5,"y":64.3},{"x":-237.2,"y":57},{"x":-167.8,"y":55.7},{"x":-236.8,"y":45.7},{"x":-240.8,"y":44},{"x":-173.8,"y":42},{"x":-176.2,"y":32},{"x":-176.8,"y":26.3},{"x":179.8,"y":-10.3},{"x":175.8,"y":-25},{"x":174.8,"y":-43},{"x":171.2,"y":-51},{"x":168.2,"y":-59.3},{"x":169.2,"y":-86.3},{"x":151.8,"y":-96},{"x":147.8,"y":-100.7},{"x":144.2,"y":-105},{"x":180.8,"y":-106.3},{"x":233.5,"y":-64.3},{"x":206.2,"y":-130.3},{"x":197.2,"y":-142},{"x":187.8,"y":-156.7},{"x":160.8,"y":-135.3},{"x":120.5,"y":-135},{"x":101.2,"y":-148},{"x":142.5,"y":-160},{"x":178.8,"y":-163.3},{"x":170.2,"y":-173.7},{"x":161.8,"y":-180.7},{"x":183.8,"y":-220.3},{"x":150.2,"y":-229},{"x":145.8,"y":-232.7},{"x":110.8,"y":-215},{"x":71.5,"y":-233.3},{"x":94.8,"y":-256.3},{"x":71.2,"y":-264.7},{"x":52.5,"y":-170},{"x":18.8,"y":-241.7},{"x":242.2,"y":0.3},{"x":-208.5,"y":-10.3},{"x":-177.8,"y":-11.3},{"x":-239.8,"y":-30},{"x":-239.8,"y":-33},{"x":-165.2,"y":-62.7},{"x":-164.2,"y":-66},{"x":-163.2,"y":-69.3},{"x":-141.5,"y":-111.7},{"x":-159.2,"y":-134.7},{"x":-199.8,"y":-138.7},{"x":-191.8,"y":-151},{"x":-183.2,"y":-203.7},{"x":-108.2,"y":-142.7},{"x":-105.5,"y":-142.7},{"x":-77.8,"y":-160},{"x":-57.5,"y":-167.3},{"x":-54.5,"y":-170.7},{"x":-47.5,"y":-176.3},{"x":-30.2,"y":-175.3},{"x":-68.2,"y":-198},{"x":-55.2,"y":-205},{"x":-139.2,"y":-197},{"x":-134.8,"y":-199.7},{"x":-127.5,"y":-206},{"x":-103.2,"y":-222.7},{"x":-92.8,"y":-223.7},{"x":-78.5,"y":-228.3},{"x":-69.8,"y":-231.3},{"x":-64.5,"y":-238.7},{"x":-116.2,"y":-250.7}]},"mark":{"type":"circle","color":"#000","opacity":1,"size":9},"encoding":{"x":{"field":"x","type":"quantitative"},"y":{"field":"y","type":"quantitative"}}},{"data":{"values":[{"x":39.8,"y":289.3},{"x":133.2,"y":260},{"x":190.8,"y":220.3},{"x":205.2,"y":208},{"x":206.8,"y":206},{"x":214.5,"y":198.3},{"x":-85.2,"y":279},{"x":-66.5,"y":283.7},{"x":-82.5,"y":272.7},{"x":-145.5,"y":253},{"x":-138.2,"y":257},{"x":-209.2,"y":203},{"x":-250.2,"y":149},{"x":-283.2,"y":65.7},{"x":-286.2,"y":50.3},{"x":284.5,"y":-63.7},{"x":269.2,"y":-112},{"x":269.8,"y":-111},{"x":262.5,"y":-127},{"x":254.2,"y":-142},{"x":214.2,"y":-198},{"x":186.5,"y":-224.3},{"x":161.8,"y":-243},{"x":144.2,"y":-253.3},{"x":100.5,"y":-175.3},{"x":100.8,"y":-177},{"x":-5.5,"y":-291.7},{"x":-289.2,"y":-34},{"x":-275.8,"y":-93.7},{"x":-189.8,"y":-133.7},{"x":-196.5,"y":-139},{"x":-198.2,"y":-139.7},{"x":-138.8,"y":-98},{"x":-164.5,"y":-116.7},{"x":-222.8,"y":-157.7},{"x":-237.5,"y":-168},{"x":-183.8,"y":-225.7},{"x":-176.5,"y":-231.7},{"x":-133.2,"y":-258.3},{"x":-127.2,"y":-261.3},{"x":-94.2,"y":-276},{"x":-75.8,"y":-221.7}]},"mark":{"type":"circle","color":"#c9503c","opacity":1,"size":9},"encoding":{"x":{"field":"x","type":"quantitative"},"y":{"field":"y","type":"quantitative"}}},{"data":{"values":[{"x":-38.5,"y":125,"t":"Xlr3b"}]},"mark":{"type":"text","fontSize":7.5,"color":"#b7452f","angle":80},"encoding":{"text":{"field":"t"},"x":{"field":"x","type":"quantitative"},"y":{"field":"y","type":"quantitative"}}},{"data":{"values":[{"x":-113.5,"y":69.7,"t":"H2-ab1"}]},"mark":{"type":"text","fontSize":7.5,"color":"#222","angle":17},"encoding":{"text":{"field":"t"},"x":{"field":"x","type":"quantitative"},"y":{"field":"y","type":"quantitative"}}},{"data":{"values":[{"x":-40.8,"y":-121,"t":"Dcn"}]},"mark":{"type":"text","fontSize":7.5,"color":"#b7452f","angle":-75},"encoding":{"text":{"field":"t"},"x":{"field":"x","type":"quantitative"},"y":{"field":"y","type":"quantitative"}}},{"data":{"values":[{"x":62.2,"y":-111.3,"t":"Igf2"}]},"mark":{"type":"text","fontSize":7.5,"color":"#b7452f","angle":62},"encoding":{"text":{"field":"t"},"x":{"field":"x","type":"quantitative"},"y":{"field":"y","type":"quantitative"}}},{"data":{"values":[{"x":-106.8,"y":-70.3,"t":"Mirg"},{"x":-112.8,"y":-81,"t":"Dio3 Dlk1"},{"x":-101.2,"y":-81.3,"t":"Meg3"}]},"mark":{"type":"text","fontSize":7.5,"color":"#b7452f","angle":-35},"encoding":{"text":{"field":"t"},"x":{"field":"x","type":"quantitative"},"y":{"field":"y","type":"quantitative"}}},{"data":{"values":[{"x":-16.8,"y":265.7,"t":"HET.M"},{"x":-14.2,"y":232,"t":"WT.M"},{"x":-11.8,"y":200.7,"t":"HET.F"},{"x":-10.2,"y":172.3,"t":"WT.F"}]},"mark":{"type":"text","fontSize":8,"color":"#222","angle":84},"encoding":{"text":{"field":"t"},"x":{"field":"x","type":"quantitative"},"y":{"field":"y","type":"quantitative"}}},{"data":{"values":[{"t":"E"}]},"mark":{"type":"text","fontSize":20,"fontWeight":"bold","color":"#000"},"encoding":{"text":{"field":"t"},"x":{"value":-86.7},"y":{"value":34.2}}}]}]}
